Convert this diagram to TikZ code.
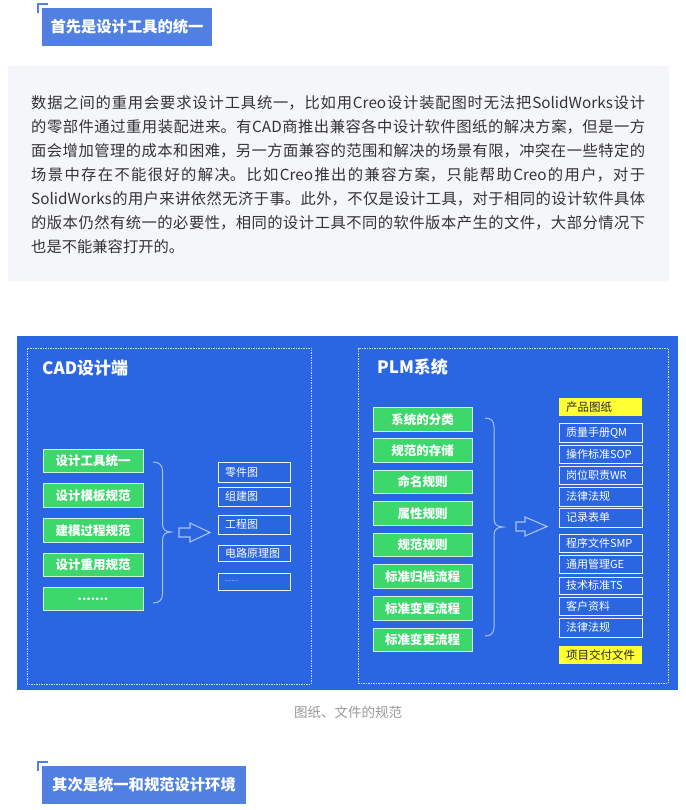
\documentclass[tikz,border=0pt]{standalone}
\usepackage{fontspec}
\setmainfont{Noto Sans CJK SC}
\XeTeXlinebreaklocale "zh"
\XeTeXlinebreakskip=0pt plus 2pt
\definecolor{hdrblue}{HTML}{4F80E2}
\definecolor{bgblue}{HTML}{2B66E2}
\definecolor{cgreen}{HTML}{3DD86C}
\definecolor{greybg}{HTML}{F5F6FA}
\definecolor{cyellow}{HTML}{FFFF33}
\definecolor{bodytext}{HTML}{333333}
\definecolor{bracecol}{HTML}{A9C1F2}
\tikzset{
  bodyline/.style={anchor=west, text width=614pt, inner sep=0pt, align=justify, text=bodytext,
    font=\fontsize{15.3}{18}\selectfont},
  hdrbox/.style={fill=hdrblue, draw=none, inner sep=0pt, text=white,
    font=\fontsize{15.3}{18}\selectfont\bfseries},
  greenbox/.style={fill=cgreen, draw=white!75!cgreen, line width=0.8pt, inner sep=0pt,
    minimum width=100pt, minimum height=23.5pt, text=white,
    font=\fontsize{12.5}{14}\selectfont\bfseries},
  lbox/.style={fill=bgblue, draw=white!92!bgblue, line width=1pt, inner ysep=0pt, inner xsep=7pt,
    text width=58pt, align=left, minimum height=#1, text=white,
    font=\fontsize{11}{13}\selectfont},
  rbox/.style={fill=bgblue, draw=white!92!bgblue, line width=1pt, inner ysep=0pt, inner xsep=7pt,
    text width=69pt, align=left, minimum height=#1, text=white,
    font=\fontsize{11}{13}\selectfont},
  ybox/.style={fill=cyellow, draw=none, inner ysep=0pt, inner xsep=7pt,
    text width=69pt, align=left, minimum height=18.5pt, text=black!85,
    font=\fontsize{11.5}{13}\selectfont},
  frame/.style={draw=white!75!bgblue, line width=0.6pt, dash pattern=on 1.5pt off 1pt},
  brace/.style={draw=bracecol, line width=1pt},
  hollow/.style={draw=bracecol, line width=1.1pt, line join=miter},
  title/.style={anchor=west, inner sep=0pt, text=white, font=\fontsize{17}{20}\selectfont\bfseries},
}
\begin{document}
\begin{tikzpicture}[x=1pt,y=-1pt]
\useasboundingbox (0,0) rectangle (685,810);
\fill[white] (0,0) rectangle (685,810);

% header 1
\draw[hdrblue, line width=2pt] (38.3,13.5) -- (38.3,4.3) -- (47.5,4.3);
\node[hdrbox, minimum width=170pt, minimum height=38pt] (h1) at (127,27) {首先是设计工具的统一};

% grey text block
\fill[greybg] (8,66) rectangle (669,281);
\node[bodyline] (l1) at (31,102.7) {\parindent=0pt\parfillskip=0pt\tolerance=10000 数据之间的重用会要求设计工具统一，比如用Creo设计装配图时无法把SolidWorks设计\par};
\node[bodyline] (l2) at (31,126.7) {\parindent=0pt\parfillskip=0pt\tolerance=10000 的零部件通过重用装配进来。有CAD商推出兼容各中设计软件图纸的解决方案，但是一方\par};
\node[bodyline] (l3) at (31,150.7) {\parindent=0pt\parfillskip=0pt\tolerance=10000 面会增加管理的成本和困难，另一方面兼容的范围和解决的场景有限，冲突在一些特定的\par};
\node[bodyline] (l4) at (31,174.7) {\parindent=0pt\parfillskip=0pt\tolerance=10000 场景中存在不能很好的解决。比如Creo推出的兼容方案，只能帮助Creo的用户，对于\par};
\node[bodyline] (l5) at (31,198.7) {\parindent=0pt\parfillskip=0pt\tolerance=10000 SolidWorks的用户来讲依然无济于事。此外，不仅是设计工具，对于相同的设计软件具体\par};
\node[bodyline] (l6) at (31,222.7) {\parindent=0pt\parfillskip=0pt\tolerance=10000 的版本仍然有统一的必要性，相同的设计工具不同的软件版本产生的文件，大部分情况下\par};
\node[bodyline] (l7) at (31,246.7) {\parindent=0pt 也是不能兼容打开的。\par};

% blue diagram background
\fill[bgblue] (17,336) rectangle (678,690);
\draw[frame] (27,348) rectangle (311,684);
\draw[frame] (358,348) rectangle (668,683);
\node[title] (cadt) at (42,368) {CAD设计端};
\node[title] (plmt) at (377,367) {PLM系统};

% left green boxes
\node[greenbox] (g1) at (93,461) {设计工具统一};
\node[greenbox] (g2) at (93,495.5) {设计模板规范};
\node[greenbox] (g3) at (93,530.5) {建模过程规范};
\node[greenbox] (g4) at (93,565) {设计重用规范};
\node[greenbox] (g5) at (93,599) {.......};

% left brace
\coordinate (lb1) at (153,462);
\coordinate (lb2) at (162.5,471);
\coordinate (lb3) at (162.5,524);
\coordinate (lbt) at (171,532);
\coordinate (lb4) at (162.5,540);
\coordinate (lb5) at (162.5,594);
\coordinate (lb6) at (153,603);
\draw[brace] (lb1) .. controls (159,462) and (162.5,465) .. (lb2) -- (lb3)
  .. controls (162.5,529) and (165,532) .. (lbt)
  .. controls (165,532) and (162.5,535) .. (lb4) -- (lb5)
  .. controls (162.5,600) and (159,603) .. (lb6);

% left hollow arrow
\coordinate (la1) at (179,528);
\coordinate (la2) at (190,528);
\coordinate (la3) at (190,523);
\coordinate (la4) at (210,532.5);
\coordinate (la5) at (190,542);
\coordinate (la6) at (190,537);
\coordinate (la7) at (179,537);
\draw[hollow] (la1) -- (la2) -- (la3) -- (la4) -- (la5) -- (la6) -- (la7) -- cycle;

% left outline boxes
\node[lbox=20pt] (b1) at (254,472) {零件图};
\node[lbox=19pt] (b2) at (254,496.5) {组建图};
\node[lbox=19pt] (b3) at (254,524.5) {工程图};
\node[lbox=16pt] (b4) at (254,553) {电路原理图};
\node[lbox=17pt, text=white!55!bgblue] (b5) at (254,581.5) {\fontsize{8}{9}\selectfont ......};

% right green boxes
\node[greenbox, minimum width=99pt] (p1) at (422.5,419.5) {系统的分类};
\node[greenbox, minimum width=99pt] (p2) at (422.5,450.5) {规范的存储};
\node[greenbox, minimum width=99pt] (p3) at (422.5,482) {命名规则};
\node[greenbox, minimum width=99pt] (p4) at (422.5,513.5) {属性规则};
\node[greenbox, minimum width=99pt] (p5) at (422.5,545) {规范规则};
\node[greenbox, minimum width=99pt] (p6) at (422.5,576.5) {标准归档流程};
\node[greenbox, minimum width=99pt] (p7) at (422.5,608.5) {标准变更流程};
\node[greenbox, minimum width=99pt] (p8) at (422.5,640) {标准变更流程};

% right brace
\coordinate (rb1) at (485,418);
\coordinate (rb2) at (494,427);
\coordinate (rb3) at (494,519);
\coordinate (rbt) at (503,527);
\coordinate (rb4) at (494,535);
\coordinate (rb5) at (494,627);
\coordinate (rb6) at (485,636);
\draw[brace] (rb1) .. controls (491,418) and (494,421) .. (rb2) -- (rb3)
  .. controls (494,524) and (497,527) .. (rbt)
  .. controls (497,527) and (494,530) .. (rb4) -- (rb5)
  .. controls (494,633) and (491,636) .. (rb6);

% right hollow arrow
\coordinate (ra1) at (516,522);
\coordinate (ra2) at (525,522);
\coordinate (ra3) at (525,517);
\coordinate (ra4) at (547,526.5);
\coordinate (ra5) at (525,536);
\coordinate (ra6) at (525,531);
\coordinate (ra7) at (516,531);
\draw[hollow] (ra1) -- (ra2) -- (ra3) -- (ra4) -- (ra5) -- (ra6) -- (ra7) -- cycle;

% right boxes
\node[ybox] (y1) at (600.5,407) {产品图纸};
\node[rbox=19pt] (r1) at (600.5,432.5) {质量手册QM};
\node[rbox=18pt] (r2) at (600.5,454) {操作标准SOP};
\node[rbox=18pt] (r3) at (600.5,475) {岗位职责WR};
\node[rbox=19pt] (r4) at (600.5,496.5) {法律法规};
\node[rbox=19pt] (r5) at (600.5,517.5) {记录表单};
\node[rbox=18pt] (r6) at (600.5,543) {程序文件SMP};
\node[rbox=18pt] (r7) at (600.5,564) {通用管理GE};
\node[rbox=17pt] (r8) at (600.5,585.5) {技术标准TS};
\node[rbox=18pt] (r9) at (600.5,606) {客户资料};
\node[rbox=19pt] (r10) at (600.5,627.5) {法律法规};
\node[ybox] (y2) at (600.5,655) {项目交付文件};

% caption
\node[text=black!40, font=\fontsize{13.5}{16}\selectfont] (cap) at (348,712) {图纸、文件的规范};

% header 2
\draw[hdrblue, line width=2pt] (38.3,771) -- (38.3,761.8) -- (47.5,761.8);
\node[hdrbox, minimum width=204pt, minimum height=38pt] (h2) at (144,785) {其次是统一和规范设计环境};
\end{tikzpicture}
\end{document}
